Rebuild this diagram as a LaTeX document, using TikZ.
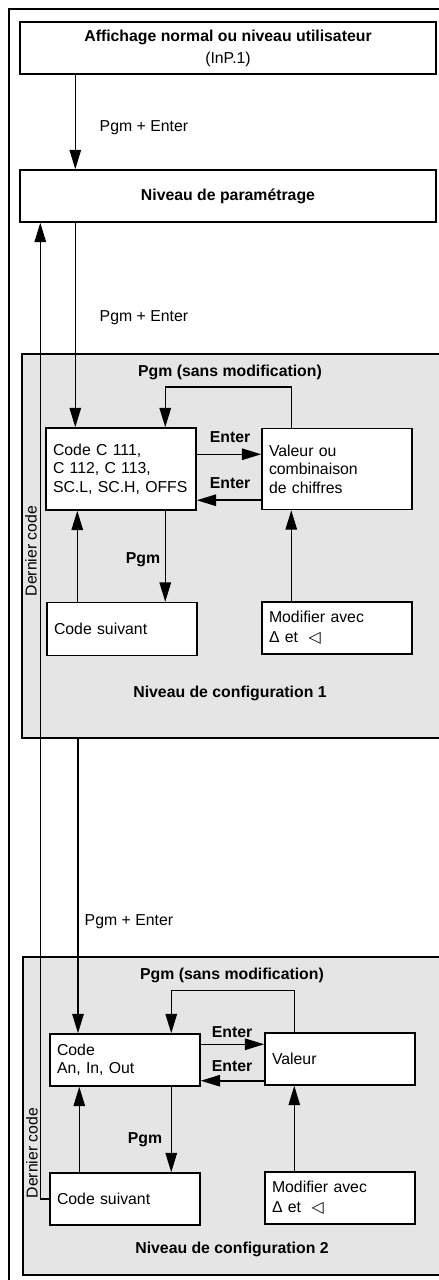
\documentclass[tikz,border=0pt]{standalone}
\usepackage{fontspec}
\setmainfont{Liberation Sans}
\newfontfamily\symfont{DejaVu Sans}
\usetikzlibrary{arrows.meta, positioning, calc}

\begin{document}
\begin{tikzpicture}[
    x=0.02cm, y=-0.02cm,
    >={Triangle[length=11pt, width=6.5pt]},
    line width=0.85pt,
    font=\fontsize{9}{10.5}\selectfont,
    widebox/.style={draw, fill=white, minimum width=8.32cm, minimum height=1.04cm,
                    align=center, inner sep=0pt},
    codebox/.style={draw, fill=white, text width=2.72cm, inner xsep=0.14cm,
                    inner ysep=0pt, align=left},
    lbl/.style={inner sep=0pt},
    blbl/.style={inner sep=0pt, font=\fontsize{9}{10.5}\selectfont\bfseries},
    levelbg/.style={fill=black!10, draw=none},
]

\useasboundingbox (0,0) rectangle (439,1280);

% ============================================================
% FRAMES
% ============================================================
\draw[line width=0.6pt] (439,9) -- (9,9) -- (9,1280);

% Level 1 background
\fill[levelbg] (22,354) rectangle (439,738);
\draw (439,354) -- (22,354) -- (22,738) -- (439,738);

% Level 2 background
\fill[levelbg] (23,957) rectangle (439,1275);
\draw (439,957) -- (23,957) -- (23,1275) -- (439,1275);

% ============================================================
% TOP BOXES
% ============================================================
\node[widebox] (top) at (228,48)
    {\textbf{Affichage normal ou niveau utilisateur}\\[2pt](InP.1)};
\node[widebox] (param) at (228,196) {\textbf{Niveau de paramétrage}};

% ============================================================
% LEVEL 1
% ============================================================
\node[codebox, minimum height=1.64cm] (code1) at (121,469)
    {Code C 111,\\C 112, C 113,\\SC.L, SC.H, OFFS};
\node[codebox, minimum height=1.62cm] (val1) at (337,469)
    {Valeur ou\\combinaison\\de chiffres};
\node[codebox, minimum height=1.06cm] (next1) at (122,629) {Code suivant};
\node[codebox, minimum height=1.04cm] (mod1) at (337,628)
    {Modifier avec\\[1pt]Δ et \ {\symfont ◁}};

\node[blbl] (nosave1) at (230,372) {Pgm (sans modification)};
\node[blbl] (enterr1) at (230,437) {Enter};
\node[blbl] (enterl1) at (230,483) {Enter};
\node[blbl] (pgm1) at (143,560) {Pgm};
\node[blbl] (title1) at (230,693) {Niveau de configuration 1};
\node[lbl, rotate=90] (last1) at (31,551) {Dernier code};

% ============================================================
% LEVEL 2
% ============================================================
\node[codebox, minimum height=1.04cm] (code2) at (125,1060)
    {Code\\An, In, Out};
\node[codebox, minimum height=1.04cm] (val2) at (340,1059) {Valeur};
\node[codebox, minimum height=1.04cm] (next2) at (125,1199) {Code suivant};
\node[codebox, minimum height=1.04cm] (mod2) at (340,1198)
    {Modifier avec\\[1pt]Δ et \ {\symfont ◁}};

\node[blbl] (nosave2) at (232,975) {Pgm (sans modification)};
\node[blbl] (enterr2) at (232,1032) {Enter};
\node[blbl] (enterl2) at (232,1066) {Enter};
\node[blbl] (pgm2) at (145,1140) {Pgm};
\node[blbl] (title2) at (232,1249) {Niveau de configuration 2};
\node[lbl, rotate=90] (last2) at (32,1153) {Dernier code};

% ============================================================
% CONNECTORS
% ============================================================
% entry into the levels
\draw[->] ([xshift=1.12cm]top.south west) -- ([xshift=1.12cm]param.north west);
\node[lbl, anchor=west] (pe0) at (99,128) {Pgm + Enter};

\draw[->] ([xshift=1.12cm]param.south west) coordinate (p0) -- (p0 |- code1.north);
\node[lbl, anchor=west] (pe1) at (99,318) {Pgm + Enter};

\coordinate (lvl1bot) at (78,738);
\draw[->] (lvl1bot) -- (lvl1bot |- code2.north);
\node[lbl, anchor=west] (pe2) at (84,922) {Pgm + Enter};

% last code back to parameter level
\draw[->] (next2.west) -- ++(-0.18cm,0) coordinate (dc) -- (dc |- param.south);

% level 1 loops
\draw[->] ([xshift=0.6cm]val1.north west) -- ++(0,0.82cm) -| ([xshift=2.4cm]code1.north west);
\draw[->] ([yshift=-0.54cm]code1.north east) coordinate (e1) -- (e1 -| val1.west);
\draw[->] ([yshift=0.2cm]val1.south west) coordinate (e2) -- (e2 -| code1.east);
\draw[->] ([xshift=2.4cm]code1.south west) coordinate (d1) -- (d1 |- next1.north);
\draw[->] ([xshift=0.62cm]next1.north west) coordinate (u1) -- (u1 |- code1.south);
\draw[->] ([xshift=0.6cm]mod1.north west) coordinate (m1) -- (m1 |- val1.south);

% level 2 loops
\draw[->] ([xshift=0.6cm]val2.north west) -- ++(0,0.84cm) -| ([xshift=2.44cm]code2.north west);
\draw[->] ([yshift=-0.22cm]code2.north east) coordinate (e3) -- (e3 -| val2.west);
\draw[->] ([yshift=0.1cm]val2.south west) coordinate (e4) -- (e4 -| code2.east);
\draw[->] ([xshift=2.44cm]code2.south west) coordinate (d2) -- (d2 |- next2.north);
\draw[->] ([xshift=0.6cm]next2.north west) coordinate (u2) -- (u2 |- code2.south);
\draw[->] ([xshift=0.6cm]mod2.north west) coordinate (m2) -- (m2 |- val2.south);

\end{tikzpicture}
\end{document}
